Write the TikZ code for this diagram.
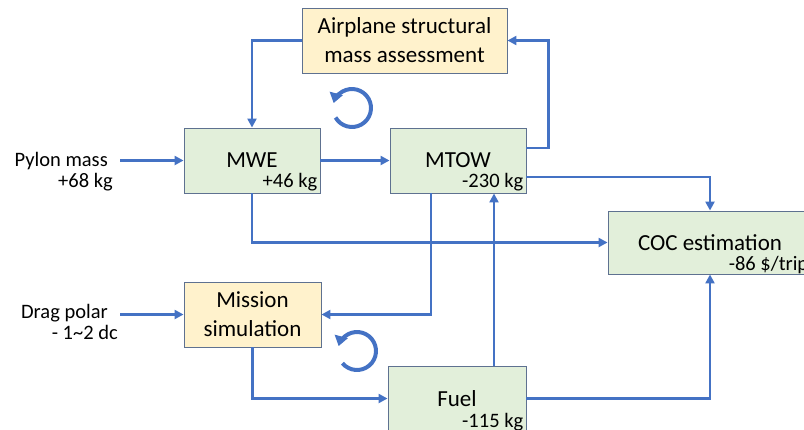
\documentclass[tikz,border=0pt]{standalone}
\usepackage{fontspec}
\setmainfont{Carlito}
\usetikzlibrary{arrows.meta,calc}
\definecolor{flowblue}{HTML}{4472C4}
\definecolor{massgreen}{HTML}{E2EFDA}
\definecolor{toolyellow}{HTML}{FFF2CC}
\definecolor{outline}{HTML}{5E7190}

\begin{document}
\begin{tikzpicture}[x=1pt, y=-1pt, text=black,
  block/.style={draw=outline, line width=0.9pt, minimum width=136pt, minimum height=65pt,
    inner sep=0pt, align=center, font=\fontsize{23}{29}\selectfont},
  tool/.style={block, fill=toolyellow},
  mass/.style={block, fill=massgreen},
  delta/.style={font=\fontsize{20.5}{22}\selectfont, anchor=base east, inner sep=0pt},
  input/.style={font=\fontsize{20.5}{21.5}\selectfont, align=right, anchor=north east,
    inner xsep=7pt, inner ysep=0pt},
  flow/.style={draw=flowblue, line width=2.5pt, -{Triangle[length=9pt,width=9pt]}},
  turn/.style={draw=flowblue, line width=4pt, -{Triangle[length=10pt,width=13pt]}}]
  \path[use as bounding box] (0,0) rectangle (804,429);
  \clip (0,0) rectangle (804,429);

  \node[tool, minimum width=205pt] (asm) at (404.5,40.5) {Airplane structural\\mass assessment};
  \node[mass] (mwe) at (252,160.5) {MWE};
  \node[mass] (mtow) at (458,160.5) {MTOW};
  \node[mass, minimum width=204pt, minimum height=63pt] (coc) at (710,242.5) {COC estimation};
  \node[tool, minimum width=137pt] (mission) at (252.5,314.5) {Mission\\simulation};
  \node[mass, minimum width=138pt] (fuel) at (457,398.5) {Fuel};

  \node[delta] (mwedelta) at ($(mwe.south east)+(-3,-6)$) {+46 kg};
  \node[delta] (mtowdelta) at ($(mtow.south east)+(-3,-6)$) {-230 kg};
  \node[delta] (cocdelta) at ($(coc.south east)+(-4,-4)$) {-86 \$/trip};
  \node[delta] (fueldelta) at ($(fuel.south east)+(-3,-4)$) {-115 kg};

  \node[input] (pylon) at (120,152) {Pylon mass\hspace*{5pt}\\+68 kg};
  \node[input, inner xsep=2pt] (drag) at (120,304) {Drag polar\hspace*{10pt}\\- 1\textasciitilde 2 dc};

  % mass loop
  \draw[flow] (pylon.east |- mwe.west) -- (mwe.west);
  \draw[flow] (mwe.east) -- (mtow.west);
  \draw[flow] ([yshift=12.5pt]mtow.east) -- ++(22,0) |- (asm.east);
  \draw[flow] (asm.west) -| (mwe.north);
  \draw[turn] ($(352,108)+(150:19)$) arc[start angle=150, end angle=-165, radius=19];

  % fuel loop
  \coordinate (fueltop) at ([xshift=37pt]fuel.north);
  \draw[flow] (drag.east |- mission.west) -- (mission.west);
  \draw[flow] ([xshift=-27pt]mtow.south) |- (mission.east);
  \draw[flow] (mission.south) |- (fuel.west);
  \draw[flow] (fueltop) -- (fueltop |- mtow.south);
  \draw[turn] ($(357,351)+(140:19)$) arc[start angle=140, end angle=-165, radius=19];

  % cost
  \draw[flow] ([yshift=-16.5pt]mtow.east) -| (coc.north);
  \draw[flow] (mwe.south) |- (coc.west);
  \draw[flow] (fuel.east) -| (coc.south);
\end{tikzpicture}
\end{document}
